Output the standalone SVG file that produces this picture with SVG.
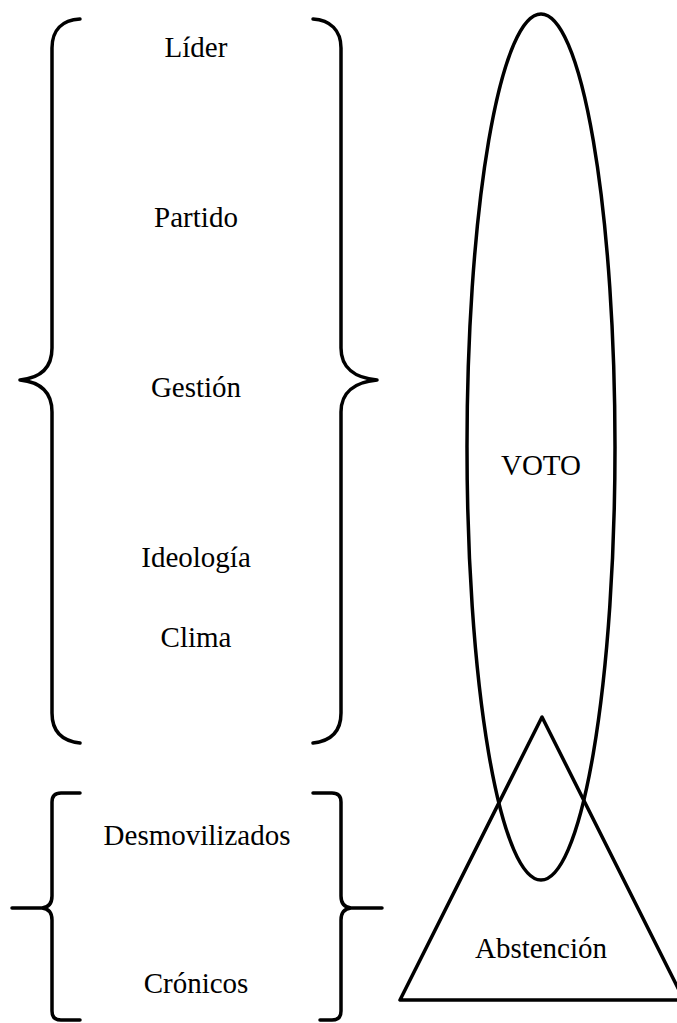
<svg xmlns="http://www.w3.org/2000/svg" width="677" height="1023" viewBox="0 0 677 1023">
<style>
.s{fill:none;stroke:#000;stroke-width:3.5;stroke-linecap:round;stroke-linejoin:round}
.t{font-family:'Liberation Serif','Times New Roman',Tinos,'DejaVu Serif',serif;font-size:29px;fill:#000;text-anchor:middle}
</style>
<rect width="677" height="1023" fill="#fff"/>
<g id="brace-top-left"><path class="s" d="M80,19 C62,20 52,30 52,48 L52,348 C52,368 40,378 20,380 C40,382 52,392 52,412 L52,713 C52,732 62,741 80,743"/></g>
<g id="brace-top-right"><path class="s" d="M313,19 C330,20 341,30 341,48 L341,348 C341,368 355,378 377,380 C355,382 341,392 341,412 L341,713 C341,732 331,741 313,743"/></g>
<g id="brace-bottom-left"><path class="s" d="M80,793 L61,793 Q52,793 52,802 L52,896 Q52,907 42,908 L12,908 M42,908 Q52,909 52,920 L52,1011 Q52,1020 61,1020 L80,1020"/></g>
<g id="brace-bottom-right"><path class="s" d="M313,793 L332,793 Q341,793 341,802 L341,896 Q341,907 351,908 L382,908 M351,908 Q341,909 341,920 L341,1011 Q341,1020 332,1020 L320,1020"/></g>
<g id="voto"><ellipse class="s" cx="541" cy="447" rx="74" ry="433"/><text class="t" font-family="Liberation Serif, serif" x="541" y="475">VOTO</text></g>
<g id="abstencion"><polygon class="s" points="542,717 400,1000 684,1000"/><text class="t" font-family="Liberation Serif, serif" x="541" y="958">Abstención</text></g>
<g id="factors" font-family="Liberation Serif, serif">
<text class="t" x="196" y="57">Líder</text>
<text class="t" x="196" y="227">Partido</text>
<text class="t" x="196" y="397">Gestión</text>
<text class="t" x="196" y="567">Ideología</text>
<text class="t" x="196" y="647">Clima</text>
<text class="t" x="197" y="845">Desmovilizados</text>
<text class="t" x="196" y="993">Crónicos</text>
</g>
</svg>
